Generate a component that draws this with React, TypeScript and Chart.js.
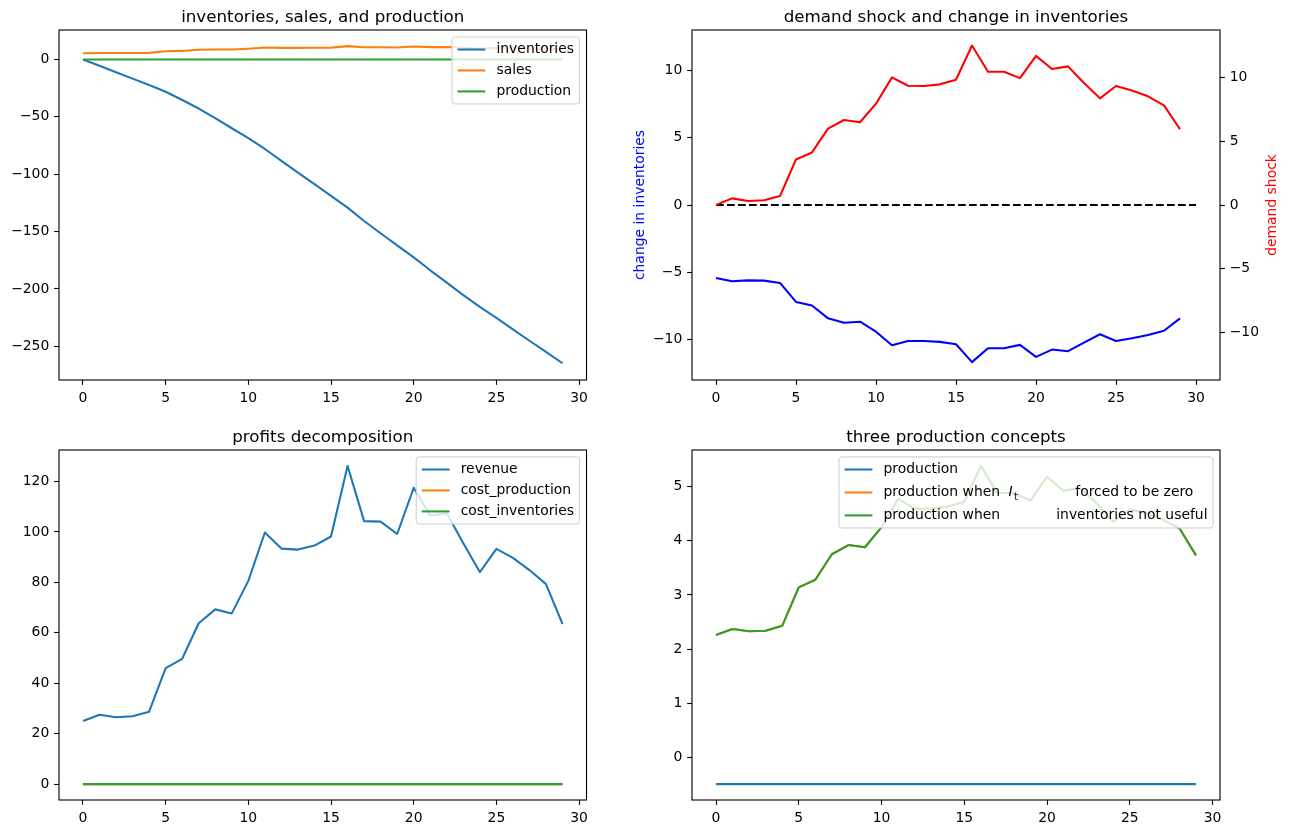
import React, { useEffect, useRef } from "react";
import { Chart, registerables } from "chart.js";

Chart.register(...registerables);

// ---------------- data ----------------
const periods = [0, 1, 2, 3, 4, 5, 6, 7, 8, 9, 10, 11, 12, 13, 14, 15, 16, 17, 18, 19, 20, 21, 22, 23, 24, 25, 26, 27, 28, 29];

const inventories = [0, -5.42, -11.09, -16.69, -22.31, -28.1, -35.3, -42.77, -51.19, -59.94, -68.61, -78.02, -88.44, -98.54, -108.64, -118.81, -129.15, -140.82, -151.46, -162.1, -172.49, -183.77, -194.51, -205.37, -215.59, -225.19, -235.29, -245.19, -254.85, -264.8];
const sales = [5.42, 5.67, 5.6, 5.62, 5.79, 7.2, 7.47, 8.42, 8.75, 8.67, 9.41, 10.42, 10.1, 10.1, 10.17, 10.34, 11.67, 10.64, 10.64, 10.39, 11.28, 10.74, 10.86, 10.22, 9.6, 10.1, 9.9, 9.66, 9.34, 8.42];
const production = [0, 0, 0, 0, 0, 0, 0, 0, 0, 0, 0, 0, 0, 0, 0, 0, 0, 0, 0, 0, 0, 0, 0, 0, 0, 0, 0, 0, 0, 0];

const changeInInventories = [-5.42, -5.67, -5.6, -5.62, -5.79, -7.2, -7.47, -8.42, -8.75, -8.67, -9.41, -10.42, -10.1, -10.1, -10.17, -10.34, -11.67, -10.64, -10.64, -10.39, -11.28, -10.74, -10.86, -10.22, -9.6, -10.1, -9.9, -9.66, -9.34, -8.42];
const demandShock = [0, 0.52, 0.31, 0.37, 0.7, 3.58, 4.13, 6.0, 6.68, 6.5, 7.96, 10.03, 9.37, 9.35, 9.48, 9.84, 12.53, 10.47, 10.47, 9.97, 11.72, 10.68, 10.89, 9.58, 8.38, 9.35, 9.0, 8.54, 7.83, 5.95];
const zeroLineX = [0, 30];
const zeroLineY = [0, 0];

const revenue = [25.0, 27.5, 26.5, 26.9, 28.7, 46.0, 49.7, 63.8, 69.3, 67.7, 80.6, 99.8, 93.4, 93.0, 94.6, 98.2, 126.2, 104.3, 104.1, 99.2, 117.5, 106.5, 107.4, 95.5, 84.1, 93.3, 89.7, 84.9, 79.3, 63.5];
const costProduction = [0, 0, 0, 0, 0, 0, 0, 0, 0, 0, 0, 0, 0, 0, 0, 0, 0, 0, 0, 0, 0, 0, 0, 0, 0, 0, 0, 0, 0, 0];
const costInventories = [0, 0, 0, 0, 0, 0, 0, 0, 0, 0, 0, 0, 0, 0, 0, 0, 0, 0, 0, 0, 0, 0, 0, 0, 0, 0, 0, 0, 0, 0];

const productionActual = [-0.49, -0.49, -0.49, -0.49, -0.49, -0.49, -0.49, -0.49, -0.49, -0.49, -0.49, -0.49, -0.49, -0.49, -0.49, -0.49, -0.49, -0.49, -0.49, -0.49, -0.49, -0.49, -0.49, -0.49, -0.49, -0.49, -0.49, -0.49, -0.49, -0.49];
const productionNoInventories = [2.26, 2.37, 2.33, 2.34, 2.43, 3.14, 3.28, 3.75, 3.92, 3.88, 4.25, 4.77, 4.59, 4.59, 4.63, 4.72, 5.38, 4.88, 4.88, 4.74, 5.18, 4.92, 4.97, 4.69, 4.35, 4.58, 4.51, 4.39, 4.23, 3.73];
const productionNotUseful = [2.26, 2.37, 2.33, 2.34, 2.43, 3.14, 3.28, 3.75, 3.92, 3.88, 4.25, 4.77, 4.59, 4.59, 4.63, 4.72, 5.38, 4.88, 4.88, 4.74, 5.18, 4.92, 4.97, 4.69, 4.35, 4.58, 4.51, 4.39, 4.23, 3.73];

const xTicks = [0, 5, 10, 15, 20, 25, 30];
const yTicks1 = [-250, -200, -150, -100, -50, 0];
const yTicks2 = [-10, -5, 0, 5, 10];
const yTicks3 = [0, 20, 40, 60, 80, 100, 120];
const yTicks4 = [0, 1, 2, 3, 4, 5];

const titles = ["inventories, sales, and production", "demand shock and change in inventories", "profits decomposition", "three production concepts"];
const labels1 = ["inventories", "sales", "production"];
const labels3 = ["revenue", "cost_production", "cost_inventories"];
const labels4 = ["production", "production when I_t forced to be zero", "production when inventories not useful"];

// ---------------- style ----------------
const FONT = "'DejaVu Sans', Verdana, sans-serif";
const FS = 13.9;
const TL = 4.86;
const LW = 2.08;
const C0 = "#1f77b4";
const C1 = "#ff7f0e";
const C2 = "#2ca02c";

const fmt = (v: any) => String(v).replace("-", "\u2212");

const pts = (xs: number[], ys: number[]) => xs.map((x, i) => ({ x, y: ys[i] }));

function tickGrid() {
  return {
    display: true,
    drawOnChartArea: false,
    drawTicks: true,
    tickLength: TL,
    color: "#000",
    tickColor: "#000",
    tickWidth: 1.11,
  };
}

function xAxis(min: number, max: number, ticks: number[], height: number) {
  return {
    type: "linear",
    position: "bottom",
    min,
    max,
    afterBuildTicks: (s: any) => {
      s.ticks = ticks.map((v) => ({ value: v }));
    },
    afterFit: (s: any) => {
      s.height = height;
    },
    grid: tickGrid(),
    border: { display: false },
    title: { display: false },
    ticks: {
      autoSkip: false,
      maxRotation: 0,
      minRotation: 0,
      padding: TL,
      color: "#000",
      font: { family: FONT, size: FS },
      callback: (v: any) => fmt(v),
    },
  };
}

function yAxis(min: number, max: number, ticks: number[], width: number, position = "left") {
  return {
    type: "linear",
    position,
    min,
    max,
    afterBuildTicks: (s: any) => {
      s.ticks = ticks.map((v) => ({ value: v }));
    },
    afterFit: (s: any) => {
      s.width = width;
    },
    grid: tickGrid(),
    border: { display: false },
    title: { display: false },
    ticks: {
      autoSkip: false,
      padding: TL,
      color: "#000",
      font: { family: FONT, size: FS },
      callback: (v: any) => fmt(v),
    },
  };
}

function line(label: string, data: any[], color: string, order: number, yAxisID = "y", dash: number[] = []) {
  return {
    label,
    data,
    borderColor: color,
    backgroundColor: color,
    borderWidth: LW,
    borderDash: dash,
    borderCapStyle: "butt",
    borderJoinStyle: "round",
    pointRadius: 0,
    fill: false,
    tension: 0,
    order,
    yAxisID,
  };
}

type Part = { t: string; dx: number; italic?: boolean; sub?: boolean };
type LegendItem = { parts: Part[]; color: string; h: number };
type AxisLabel = { text: string; color: string; x: number };

function decor(cfg: { title: string; legend?: LegendItem[]; leftLabel?: AxisLabel; rightLabel?: AxisLabel }) {
  return {
    id: "decor",
    afterDraw(chart: any) {
      const ctx: CanvasRenderingContext2D = chart.ctx;
      const a = chart.chartArea;
      ctx.save();
      // spines
      ctx.strokeStyle = "#000";
      ctx.lineWidth = 1.11;
      ctx.strokeRect(a.left, a.top, a.right - a.left, a.bottom - a.top);
      // title
      ctx.fillStyle = "#000";
      ctx.font = `16.7px ${FONT}`;
      ctx.textAlign = "center";
      ctx.textBaseline = "alphabetic";
      ctx.fillText(cfg.title, (a.left + a.right) / 2, a.top - 8.33);
      // axis labels
      const cy = (a.top + a.bottom) / 2;
      for (const lab of [cfg.leftLabel, cfg.rightLabel]) {
        if (!lab) continue;
        ctx.save();
        ctx.translate(lab.x, cy);
        ctx.rotate(-Math.PI / 2);
        ctx.font = `${FS}px ${FONT}`;
        ctx.fillStyle = lab.color;
        ctx.textAlign = "center";
        ctx.textBaseline = "middle";
        ctx.fillText(lab.text, 0, 0);
        ctx.restore();
      }
      // legend
      if (cfg.legend) {
        const pad = 0.4 * FS;
        const spacing = 0.5 * FS;
        const handle = 2 * FS;
        const textPad = 0.8 * FS;
        const axPad = 0.5 * FS;
        const subFs = FS * 0.7;
        let maxW = 0;
        for (const it of cfg.legend) {
          for (const p of it.parts) {
            ctx.font = p.sub ? `${subFs}px ${FONT}` : `${p.italic ? "italic " : ""}${FS}px ${FONT}`;
            maxW = Math.max(maxW, p.dx + ctx.measureText(p.t).width);
          }
        }
        const w = pad + handle + textPad + maxW + pad;
        let h = pad * 2 + spacing * (cfg.legend.length - 1);
        for (const it of cfg.legend) h += it.h;
        const x0 = a.right - axPad - w;
        const y0 = a.top + axPad;
        const r = 0.2 * FS;
        ctx.beginPath();
        ctx.moveTo(x0 + r, y0);
        ctx.lineTo(x0 + w - r, y0);
        ctx.arcTo(x0 + w, y0, x0 + w, y0 + r, r);
        ctx.lineTo(x0 + w, y0 + h - r);
        ctx.arcTo(x0 + w, y0 + h, x0 + w - r, y0 + h, r);
        ctx.lineTo(x0 + r, y0 + h);
        ctx.arcTo(x0, y0 + h, x0, y0 + h - r, r);
        ctx.lineTo(x0, y0 + r);
        ctx.arcTo(x0, y0, x0 + r, y0, r);
        ctx.closePath();
        ctx.fillStyle = "rgba(255,255,255,0.8)";
        ctx.fill();
        ctx.strokeStyle = "#cccccc";
        ctx.lineWidth = 1;
        ctx.stroke();
        let yy = y0 + pad;
        for (const it of cfg.legend) {
          const cyy = yy + it.h / 2;
          ctx.beginPath();
          ctx.strokeStyle = it.color;
          ctx.lineWidth = LW;
          ctx.lineCap = "butt";
          ctx.moveTo(x0 + pad, cyy);
          ctx.lineTo(x0 + pad + handle, cyy);
          ctx.stroke();
          const tx = x0 + pad + handle + textPad;
          ctx.fillStyle = "#000";
          ctx.textAlign = "left";
          for (const p of it.parts) {
            if (p.sub) {
              ctx.font = `${subFs}px ${FONT}`;
              ctx.textBaseline = "alphabetic";
              ctx.fillText(p.t, tx + p.dx, cyy + 8);
            } else {
              ctx.font = `${p.italic ? "italic " : ""}${FS}px ${FONT}`;
              ctx.textBaseline = "middle";
              ctx.fillText(p.t, tx + p.dx, cyy);
            }
          }
          yy += it.h + spacing;
        }
      }
      ctx.restore();
    },
  };
}

function baseOptions(scales: any, padding: any) {
  return {
    responsive: false,
    animation: false,
    events: [],
    layout: { padding, autoPadding: false },
    plugins: { legend: { display: false }, title: { display: false }, tooltip: { enabled: false } },
    scales,
  };
}

const simpleLegend = (labels: string[], colors: string[]): LegendItem[] =>
  labels.map((l, i) => ({ parts: [{ t: l, dx: 0 }], color: colors[i], h: 14 }));

function config1() {
  return {
    type: "line",
    data: {
      datasets: [
        line(labels1[0], pts(periods, inventories), C0, 3),
        line(labels1[1], pts(periods, sales), C1, 2),
        line(labels1[2], pts(periods, production), C2, 1),
      ],
    },
    options: baseOptions(
      { x: xAxis(-1.45, 30.45, xTicks, 37), y: yAxis(-279.4, 25.7, yTicks1, 59) },
      { left: 0, right: 53.5, top: 30, bottom: 0 }
    ),
    plugins: [decor({ title: titles[0], legend: simpleLegend(labels1, [C0, C1, C2]) })],
  };
}

function config2() {
  return {
    type: "line",
    data: {
      datasets: [
        line("change in inventories", pts(periods, changeInInventories), "#0000ff", 3, "y"),
        line("zero", pts(zeroLineX, zeroLineY), "#000000", 2, "y", [7.7, 3.3]),
        line("demand shock", pts(periods, demandShock), "#ff0000", 1, "y2"),
      ],
    },
    options: baseOptions(
      {
        x: xAxis(-1.5, 31.5, xTicks, 37),
        y: yAxis(-13.0, 13.0, yTicks2, 72, "left"),
        y2: yAxis(-13.75, 13.75, yTicks2, 69, "right"),
      },
      { left: 0, right: 0, top: 30, bottom: 0 }
    ),
    plugins: [
      decor({
        title: titles[1],
        leftLabel: { text: "change in inventories", color: "#0000ff", x: 20 },
        rightLabel: { text: "demand shock", color: "#ff0000", x: 652 },
      }),
    ],
  };
}

function config3() {
  return {
    type: "line",
    data: {
      datasets: [
        line(labels3[0], pts(periods, revenue), C0, 3),
        line(labels3[1], pts(periods, costProduction), C1, 2),
        line(labels3[2], pts(periods, costInventories), C2, 1),
      ],
    },
    options: baseOptions(
      { x: xAxis(-1.45, 30.45, xTicks, 34), y: yAxis(-6.31, 132.51, yTicks3, 59) },
      { left: 0, right: 53.5, top: 33, bottom: 0 }
    ),
    plugins: [decor({ title: titles[2], legend: simpleLegend(labels3, [C0, C1, C2]) })],
  };
}

function config4() {
  const legend: LegendItem[] = [
    { parts: [{ t: labels4[0], dx: 0 }], color: C0, h: 14 },
    {
      parts: [
        { t: "production when", dx: 0 },
        { t: "I", dx: 125, italic: true },
        { t: "t", dx: 130.5, sub: true },
        { t: "forced to be zero", dx: 191.7 },
      ],
      color: C1,
      h: 18,
    },
    {
      parts: [
        { t: "production when", dx: 0 },
        { t: "inventories not useful", dx: 172.7 },
      ],
      color: C2,
      h: 14,
    },
  ];
  return {
    type: "line",
    data: {
      datasets: [
        line(labels4[0], pts(periods, productionActual), C0, 3),
        line(labels4[1], pts(periods, productionNoInventories), C1, 2),
        line(labels4[2], pts(periods, productionNotUseful), C2, 1),
      ],
    },
    options: baseOptions(
      { x: xAxis(-1.45, 30.45, xTicks, 34), y: yAxis(-0.7835, 5.6735, yTicks4, 72) },
      { left: 0, right: 69, top: 33, bottom: 0 }
    ),
    plugins: [decor({ title: titles[3], legend })],
  };
}

function Panel(props: { left: number; top: number; width: number; height: number; build: () => any }) {
  const ref = useRef<HTMLCanvasElement>(null);
  useEffect(() => {
    const chart = new Chart(ref.current as HTMLCanvasElement, props.build());
    return () => chart.destroy();
  }, []);
  return (
    <canvas
      ref={ref}
      width={props.width}
      height={props.height}
      style={{ position: "absolute", left: props.left, top: props.top, width: props.width, height: props.height }}
    />
  );
}

export default function App() {
  return (
    <div style={{ position: "absolute", left: 0, top: 0, width: 1289, height: 834, background: "#fff", overflow: "hidden" }}>
      <Panel left={0} top={0} width={640} height={417} build={config1} />
      <Panel left={620} top={0} width={669} height={417} build={config2} />
      <Panel left={0} top={417} width={640} height={417} build={config3} />
      <Panel left={620} top={417} width={669} height={417} build={config4} />
    </div>
  );
}
